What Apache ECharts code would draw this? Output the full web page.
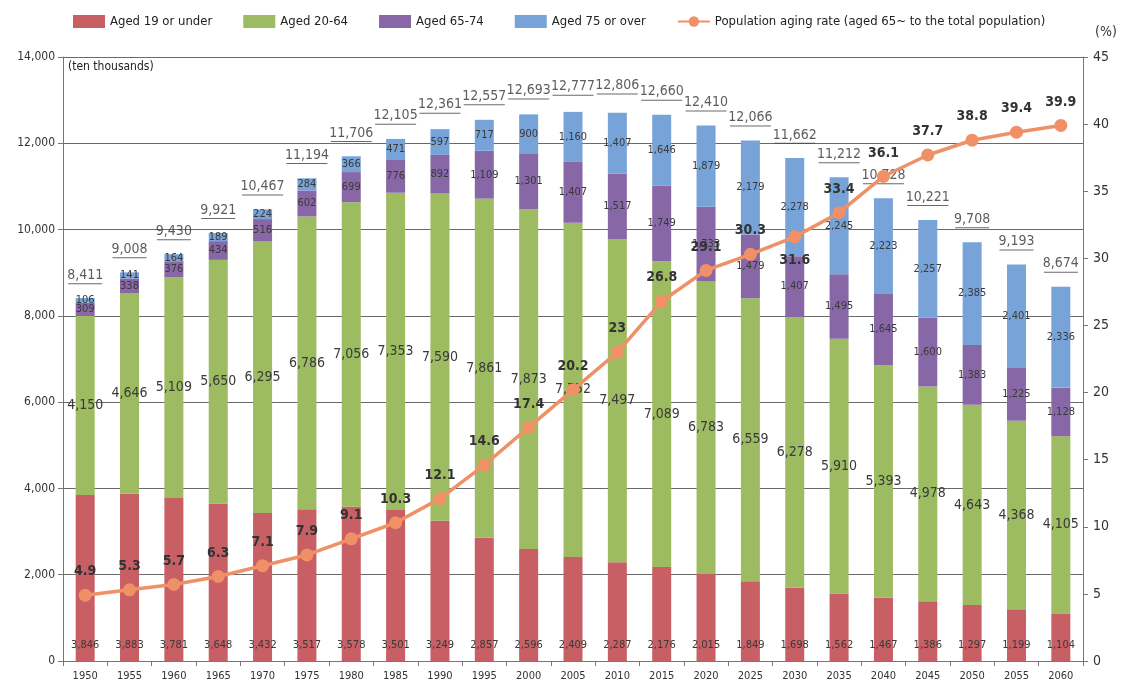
<!DOCTYPE html>
<html>
<head>
<meta charset="utf-8">
<script src="https://cdn.jsdelivr.net/npm/echarts@6/dist/echarts.min.js"></script>
<style>
  html, body { margin: 0; padding: 0; background: #fff; }
  #main { width: 1124px; height: 688px; }
</style>
</head>
<body>
<div id="main"></div>
<script>
// 年份
var years = ['1950', '1955', '1960', '1965', '1970', '1975', '1980', '1985', '1990', '1995', '2000', '2005',
    '2010', '2015', '2020', '2025', '2030', '2035', '2040', '2045', '2050', '2055', '2060'];
// 各年龄段人口（万人）
var under19 = [3846, 3883, 3781, 3648, 3432, 3517, 3578, 3501, 3249, 2857, 2596, 2409,
    2287, 2176, 2015, 1849, 1698, 1562, 1467, 1386, 1297, 1199, 1104];
var aged2064 = [4150, 4646, 5109, 5650, 6295, 6786, 7056, 7353, 7590, 7861, 7873, 7752,
    7497, 7089, 6783, 6559, 6278, 5910, 5393, 4978, 4643, 4368, 4105];
var aged6574 = [309, 338, 376, 434, 516, 602, 699, 776, 892, 1109, 1301, 1407,
    1517, 1749, 1733, 1479, 1407, 1495, 1645, 1600, 1383, 1225, 1128];
var aged75 = [106, 141, 164, 189, 224, 284, 366, 471, 597, 717, 900, 1160,
    1407, 1646, 1879, 2179, 2278, 2245, 2223, 2257, 2385, 2401, 2336];
// 总人口
var totals = [8411, 9008, 9430, 9921, 10467, 11194, 11706, 12105, 12361, 12557, 12693, 12777,
    12806, 12660, 12410, 12066, 11662, 11212, 10728, 10221, 9708, 9193, 8674];
// 老龄化率 (%)
var agingRate = [4.9, 5.3, 5.7, 6.3, 7.1, 7.9, 9.1, 10.3, 12.1, 14.6, 17.4, 20.2,
    23, 26.8, 29.1, 30.3, 31.6, 33.4, 36.1, 37.7, 38.8, 39.4, 39.9];

var FONT = '"Liberation Sans Narrow", "DejaVu Sans Condensed", "Liberation Sans", sans-serif';

function fmt(v) {
    return String(v).replace(/\B(?=(\d{3})+(?!\d))/g, ',');
}

var chart = echarts.init(document.getElementById('main'));

// 柱子的标签
function barLabel(size, pos, dist) {
    return {
        show: true,
        position: pos,
        distance: dist || 5,
        fontFamily: FONT,
        fontSize: size,
        color: '#3a3a3a',
        formatter: function (p) { return fmt(p.value); }
    };
}

var rateData = agingRate.map(function (v, i) {
    // 2030年的标签在点的下方
    if (years[i] === '2030') {
        return { value: v, label: { position: 'bottom', distance: 10 } };
    }
    return v;
});

var option = {
    animation: false,
    textStyle: { fontFamily: FONT },
    legend: {
        top: 10,
        left: 68,
        width: 1050,
        itemWidth: 32,
        itemHeight: 13,
        itemGap: 31,
        textStyle: { fontFamily: FONT, fontSize: 13, color: '#222' },
        data: [
            { name: 'Aged 19 or under', icon: 'rect' },
            { name: 'Aged 20-64', icon: 'rect' },
            { name: 'Aged 65-74', icon: 'rect' },
            { name: 'Aged 75 or over', icon: 'rect' },
            { name: 'Population aging rate (aged 65~ to the total population)' }
        ]
    },
    grid: { left: 63, right: 41, top: 57, bottom: 27 },
    xAxis: {
        type: 'category',
        data: years,
        axisLine: { lineStyle: { color: '#777' } },
        axisTick: { show: true, lineStyle: { color: '#777' } },
        axisLabel: { fontFamily: FONT, fontSize: 11, color: '#333', margin: 10 }
    },
    yAxis: [{
        type: 'value',
        min: 0,
        max: 14000,
        interval: 2000,
        axisLine: { show: true, lineStyle: { color: '#777' } },
        axisTick: { show: true, lineStyle: { color: '#777' } },
        axisLabel: {
            fontFamily: FONT, fontSize: 12, color: '#333', margin: 8,
            formatter: function (v) { return fmt(v); }
        },
        splitLine: { lineStyle: { color: '#6a6a6a', width: 1 } }
    }, {
        type: 'value',
        min: 0,
        max: 45,
        interval: 5,
        name: '(%)',
        nameGap: 18,
        nameTextStyle: { fontFamily: FONT, fontSize: 14, color: '#333', align: 'left', padding: [0, 0, 0, 12] },
        axisLine: { show: true, lineStyle: { color: '#777' } },
        axisTick: { show: true, lineStyle: { color: '#777' } },
        axisLabel: { fontFamily: FONT, fontSize: 14, color: '#333', margin: 10 },
        splitLine: { show: false }
    }],
    graphic: [{
        type: 'text',
        left: 68,
        top: 61,
        style: { text: '(ten thousands)', fontFamily: FONT, fontSize: 12, fill: '#222' }
    }],
    series: [{
        name: 'Aged 19 or under',
        type: 'bar',
        stack: 'pop',
        barWidth: 19,
        itemStyle: { color: '#c85f64' },
        label: barLabel(11, 'insideBottom', 10),
        data: under19
    }, {
        name: 'Aged 20-64',
        type: 'bar',
        stack: 'pop',
        itemStyle: { color: '#9dbb61' },
        label: barLabel(14, 'inside'),
        data: aged2064
    }, {
        name: 'Aged 65-74',
        type: 'bar',
        stack: 'pop',
        itemStyle: { color: '#8867a6' },
        label: barLabel(11, 'inside'),
        data: aged6574
    }, {
        name: 'Aged 75 or over',
        type: 'bar',
        stack: 'pop',
        itemStyle: { color: '#77a3d8' },
        label: barLabel(11, 'inside'),
        data: aged75
    }, {
        // 总人口标签（带下划线）
        name: 'total',
        type: 'scatter',
        symbolSize: 1,
        itemStyle: { color: 'rgba(0,0,0,0)' },
        silent: true,
        label: {
            show: true,
            position: 'top',
            distance: 13,
            formatter: function (p) {
                var s = fmt(p.value);
                return '{v|' + s + '}\n{' + (s.length > 5 ? 'u5' : 'u4') + '|}';
            },
            rich: {
                v: { fontFamily: FONT, fontSize: 14, color: '#333', lineHeight: 15 },
                u4: { width: 34, height: 1, lineHeight: 2, backgroundColor: '#444' },
                u5: { width: 41, height: 1, lineHeight: 2, backgroundColor: '#444' }
            }
        },
        data: totals
    }, {
        name: 'Population aging rate (aged 65~ to the total population)',
        type: 'line',
        yAxisIndex: 1,
        symbol: 'circle',
        symbolSize: 13,
        lineStyle: { color: '#ef9066', width: 3.5 },
        itemStyle: { color: '#ef9066' },
        label: {
            show: true,
            position: 'top',
            distance: 10,
            fontFamily: FONT,
            fontSize: 14,
            fontWeight: 'bold',
            color: '#333'
        },
        z: 5,
        data: rateData
    }]
};

chart.setOption(option);
</script>
</body>
</html>
